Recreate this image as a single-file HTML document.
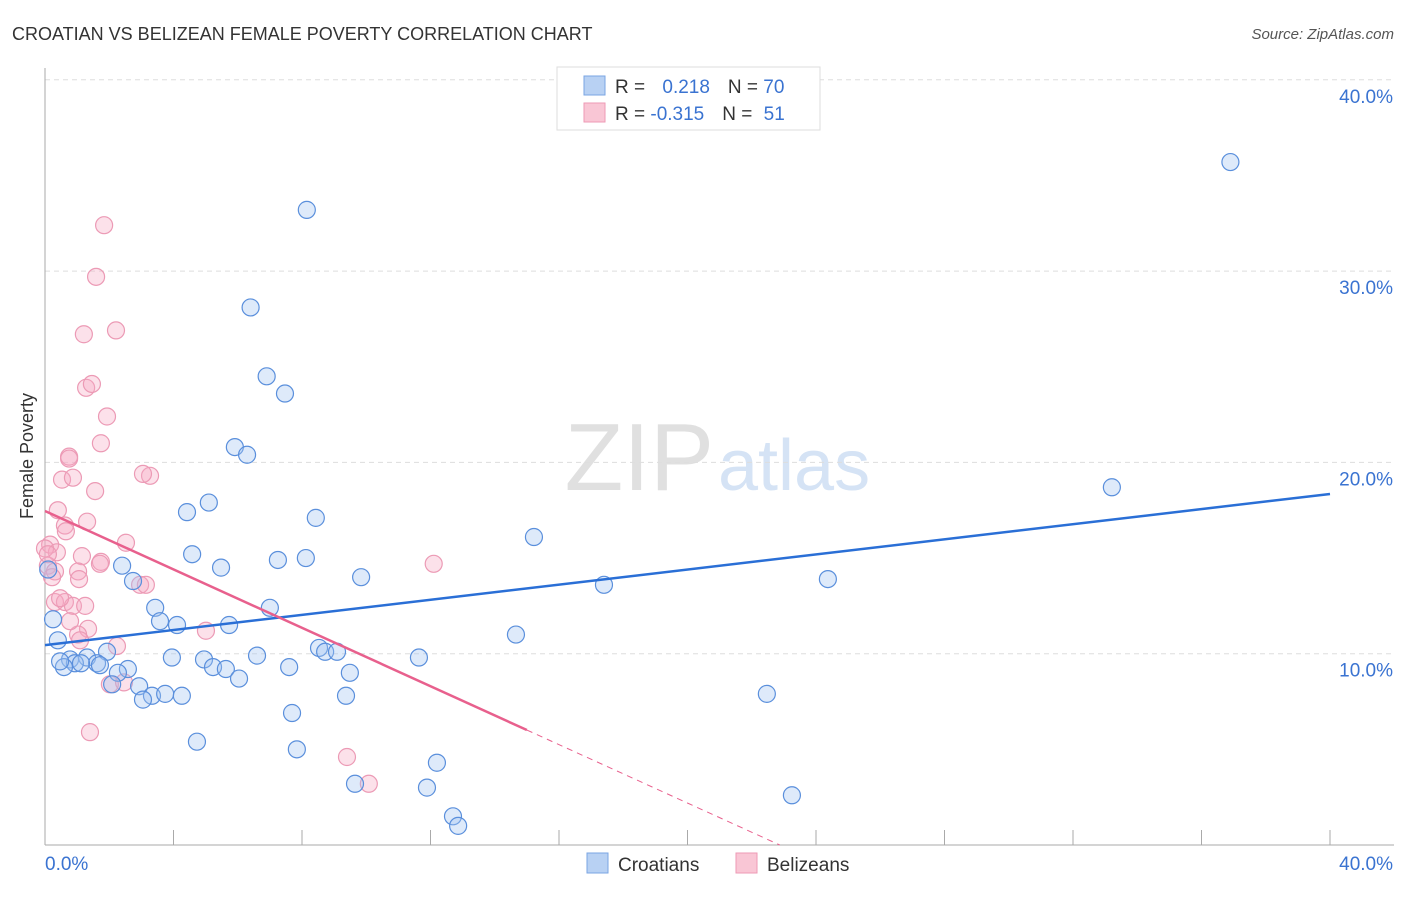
<!DOCTYPE html>
<html><head><meta charset="utf-8">
<style>
body{margin:0;background:#fff;font-family:"Liberation Sans",sans-serif;}
svg text{font-family:"Liberation Sans",sans-serif;}
</style></head>
<body>
<svg id="chart" width="1406" height="892">
<text x="12" y="40" font-size="18" fill="#333">CROATIAN VS BELIZEAN FEMALE POVERTY CORRELATION CHART</text>
<text x="1394" y="39" font-size="15" fill="#555" font-style="italic" text-anchor="end">Source: ZipAtlas.com</text>
<text x="33" y="456" font-size="18" fill="#333" text-anchor="middle" transform="rotate(-90 33 456)">Female Poverty</text>
<text x="714" y="490" font-size="96" fill="#e0e0e0" text-anchor="end" font-family="Liberation Serif">ZIP</text>
<text x="718" y="490" font-size="72" fill="#d5e3f5">atlas</text>
<g id="grid"></g><g id="axes"></g><g id="pts"></g><g id="lines"></g>
<g>
<rect x="557" y="67" width="263" height="63" fill="#fff" stroke="#ddd"/>
<rect x="584" y="76" width="21" height="19" fill="#b8d1f3" stroke="#7aa5e3"/>
<rect x="584" y="103" width="21" height="19" fill="#f9c6d5" stroke="#ee9ab5"/>
<text x="615" y="93" font-size="19" fill="#333">R = <tspan fill="#3a73d1" dx="12">0.218</tspan><tspan dx="18" fill="#333">N = </tspan><tspan fill="#3a73d1">70</tspan></text>
<text x="615" y="120" font-size="19" fill="#333">R = <tspan fill="#3a73d1">-0.315</tspan><tspan dx="18" fill="#333">N = </tspan><tspan fill="#3a73d1" dx="6">51</tspan></text>
</g>
<g>
<rect x="587" y="853" width="21" height="20" fill="#b8d1f3" stroke="#7aa5e3"/>
<text x="618" y="871" font-size="19" fill="#333">Croatians</text>
<rect x="736" y="853" width="21" height="20" fill="#f9c6d5" stroke="#ee9ab5"/>
<text x="767" y="871" font-size="19" fill="#333">Belizeans</text>
</g>
</svg>
<script>
const yTicks=[10,20,30,40];
const yTickLabels=["10.0%","20.0%","30.0%","40.0%"];
const xTickVals=[0,4,8,12,16,20,24,28,32,36,40];
const croX=[36.9,8.15,6.4,6.9,7.47,5.91,6.29,5.1,4.42,8.43,15.22,4.58,7.25,8.12,5.48,2.4,2.74,9.84,24.37,17.4,3.43,7.0,3.58,4.11,5.73,14.66,1.93,1.31,0.78,0.93,0.59,1.62,1.12,3.95,4.95,6.6,8.53,8.72,9.09,11.64,7.6,5.23,5.63,2.58,2.27,9.49,6.04,2.93,2.09,3.33,3.05,3.74,4.26,9.37,22.47,7.69,4.73,7.84,12.2,9.65,11.89,23.25,12.7,12.86,33.21,0.25,0.4,1.71,0.47,0.1];
const croY=[35.7,33.2,28.1,24.5,23.6,20.8,20.4,17.9,17.4,17.1,16.1,15.2,14.9,15.0,14.5,14.6,13.8,14.0,13.9,13.6,12.4,12.4,11.7,11.5,11.5,11.0,10.1,9.8,9.7,9.5,9.3,9.5,9.5,9.8,9.7,9.9,10.3,10.1,10.1,9.8,9.3,9.3,9.2,9.2,9.0,9.0,8.7,8.3,8.4,7.8,7.6,7.9,7.8,7.8,7.9,6.9,5.4,5.0,4.3,3.2,3.0,2.6,1.5,1.0,18.7,11.8,10.7,9.4,9.6,14.4];
const belX=[1.84,1.59,1.21,2.21,1.28,1.46,1.93,1.74,0.75,0.75,0.53,0.87,1.56,3.27,3.05,0.4,1.31,0.62,0.65,0.16,0.37,1.15,2.52,1.74,0.09,1.03,1.06,0.31,2.96,3.14,0.31,0.62,0.87,1.25,1.34,1.03,2.24,5.01,12.1,2.02,2.46,1.4,9.4,10.08,0.0,0.22,0.78,0.09,0.47,1.71,1.09];
const belY=[32.4,29.7,26.7,26.9,23.9,24.1,22.4,21.0,20.3,20.2,19.1,19.2,18.5,19.3,19.4,17.5,16.9,16.7,16.4,15.7,15.3,15.1,15.8,14.8,14.6,14.3,13.9,14.3,13.6,13.6,12.7,12.7,12.5,12.5,11.3,11.0,10.4,11.2,14.7,8.4,8.5,5.9,4.6,3.2,15.5,14.0,11.7,15.2,12.9,14.7,10.7];
const croLine=[10.45,18.35];
const belLine=[17.46,6.01,15.0];
const NS="http://www.w3.org/2000/svg";
const X=v=>45+v/40*1285, Y=v=>845-v*19.13;
function mk(tag,attrs,parent){const e=document.createElementNS(NS,tag);for(const k in attrs)e.setAttribute(k,attrs[k]);document.getElementById(parent).appendChild(e);return e;}
yTicks.forEach((t,i)=>{
 const g=mk('line',{x1:45,x2:1394,y1:Y(t),y2:Y(t),stroke:'#ddd','stroke-dasharray':'5,4'},'grid');
 
 
 const l=mk('text',{x:1393,y:Y(t)+23,'font-size':19,fill:'#3a73d1','text-anchor':'end'},'grid');
 l.textContent=yTickLabels[i];
 
 
});
const ax=mk('line',{x1:45,x2:45,y1:68,y2:845,stroke:'#aaa'},'axes');


const bx=mk('line',{x1:45,x2:1394,y1:845,y2:845,stroke:'#aaa'},'axes');


xTickVals.forEach(t=>{
 const tk=mk('line',{x1:X(t),x2:X(t),y1:830,y2:845,stroke:'#aaa'},'axes');
 
 
});
const xl0=mk('text',{x:45,y:870,'font-size':19,fill:'#3a73d1'},'axes');xl0.textContent="0.0%";


const xl1=mk('text',{x:1393,y:870,'font-size':19,fill:'#3a73d1','text-anchor':'end'},'axes');xl1.textContent="40.0%";


belX.forEach((x,i)=>{
 const c=mk('circle',{cx:X(x),cy:Y(belY[i]),r:8.5,fill:'rgba(246,170,195,0.35)',stroke:'#ec9ab5','stroke-width':1.2},'pts');
 
 
});
croX.forEach((x,i)=>{
 const c=mk('circle',{cx:X(x),cy:Y(croY[i]),r:8.5,fill:'rgba(160,195,240,0.35)',stroke:'#5a8fdc','stroke-width':1.2},'pts');
 
 
});
const cl=mk('line',{x1:X(0),y1:Y(croLine[0]),x2:X(40),y2:Y(croLine[1]),stroke:'#2a6fd6','stroke-width':2.5},'lines');


const slope=(belLine[1]-belLine[0])/belLine[2];
const pl=mk('line',{x1:X(0),y1:Y(belLine[0]),x2:X(belLine[2]),y2:Y(belLine[1]),stroke:'#e8608d','stroke-width':2.5},'lines');


const xEnd=-belLine[0]/slope;
const pd=mk('line',{x1:X(belLine[2]),y1:Y(belLine[1]),x2:X(xEnd),y2:Y(0),stroke:'#e8608d','stroke-width':1,'stroke-dasharray':'6,5'},'lines');


</script>
</body></html>
